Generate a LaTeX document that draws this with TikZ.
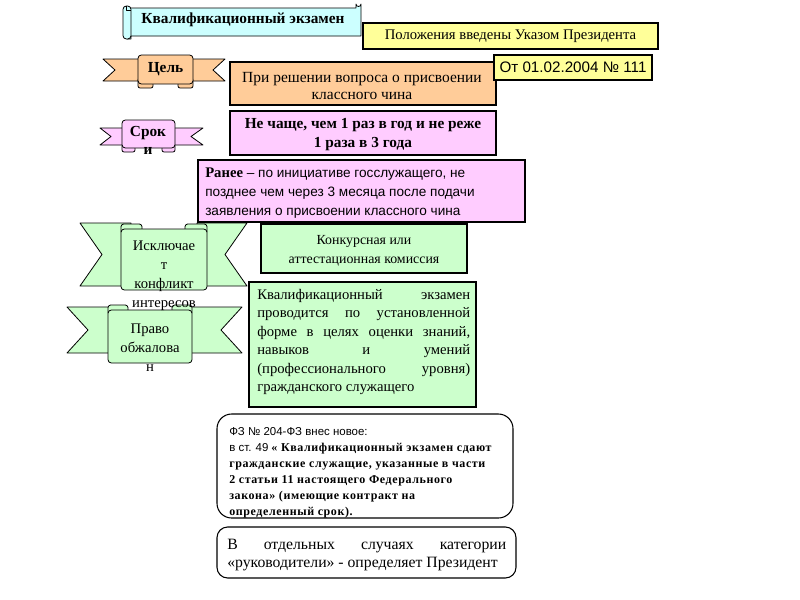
\documentclass[tikz,border=0pt]{standalone}
\usepackage{fontspec}
\setmainfont{Liberation Serif}
\newfontfamily\arialf{Liberation Sans}
\newfontfamily\spacedbf[LetterSpace=5]{Liberation Serif Bold}
\definecolor{cyanF}{HTML}{CCFFFF}
\definecolor{yellowF}{HTML}{FFFF99}
\definecolor{peachF}{HTML}{FFCC99}
\definecolor{pinkF}{HTML}{FFCCFF}
\definecolor{greenF}{HTML}{CCFFCC}
\tikzset{
  box/.style={draw=black, line width=0.8pt, inner sep=0pt},
  wh/.style 2 args={minimum width=#1*0.75pt, minimum height=#2*0.75pt},
  txt/.style={inner sep=0pt, align=center},
  rib/.style={draw=black, line width=0.6pt, line join=round},
  fm/.style={font=\fontsize{11pt}{13.5pt}\selectfont},
}
\begin{document}
\begin{tikzpicture}[x=0.75pt,y=-0.75pt]
\useasboundingbox (0,0) rectangle (800,600);
\fill[white] (0,0) rectangle (800,600);

% title scroll
\filldraw[rib, fill=cyanF] (127,8) -- (356,8) -- (356,4) arc[start angle=180,end angle=0,radius=2.5] -- (361,36) -- (131,36) -- (131,39) -- (127,39) -- cycle;
\filldraw[rib, fill=cyanF, rounded corners=2.5pt] (123,6) rectangle (131,39);
\draw[rib] (126,6) -- (126,10) -- (131,10);
\node[txt, font=\bfseries\fontsize{11.5pt}{13pt}\selectfont] (title) at (243,20) {Квалификационный экзамен};

% yellow boxes
\node[box, fill=yellowF, wh={295}{26}] (decree) at (510.5,36) {};
\node[txt, fm] (decreeT) at (decree) {Положения введены Указом Президента};

% Цель ribbon
\filldraw[rib, fill=peachF] (103,59) -- (148,59) -- (148,81) -- (103,81) -- (115,70) -- cycle;
\filldraw[rib, fill=peachF] (225,59) -- (183,59) -- (183,81) -- (225,81) -- (213,70) -- cycle;
\filldraw[rib, fill=peachF, rounded corners=1.5pt] (138,78) rectangle (153,88);
\filldraw[rib, fill=peachF, rounded corners=1.5pt] (178,78) rectangle (193,88);
\filldraw[rib, fill=peachF, rounded corners=2.5pt] (138,55) rectangle (193,84);
\node[txt, font=\bfseries\fontsize{11.5pt}{13pt}\selectfont] (goal) at (165.5,69.5) {Цель};

\node[box, fill=peachF, wh={266}{43}] (decision) at (363,83.5) {};
\node[txt, font=\fontsize{11.6pt}{13pt}\selectfont] (decisionT) at (362,86) {При решении вопроса о присвоении\\классного чина};

\node[box, fill=yellowF, wh={158}{25}] (date) at (573,67.5) {};
\node[txt, font=\arialf\fontsize{11.4pt}{13pt}\selectfont] (dateT) at (date) {От 01.02.2004 № 111};

% Сроки ribbon
\filldraw[rib, fill=pinkF] (100,128) -- (132,128) -- (132,145) -- (100,145) -- (111,136.5) -- cycle;
\filldraw[rib, fill=pinkF] (203,128) -- (165,128) -- (165,145) -- (203,145) -- (191,136.5) -- cycle;
\filldraw[rib, fill=pinkF, rounded corners=1.5pt] (122,144) rectangle (135,152);
\filldraw[rib, fill=pinkF, rounded corners=1.5pt] (162,144) rectangle (175,152);
\filldraw[rib, fill=pinkF, rounded corners=2.5pt] (122,120) rectangle (175,148);
\node[txt, font=\bfseries\fontsize{11.5pt}{13.5pt}\selectfont] (term) at (148,140.5) {Срок\\и};

\node[box, fill=pinkF, wh={266}{44}] (freq) at (363,133) {};
\node[txt, font=\bfseries\fontsize{11.5pt}{14.25pt}\selectfont] (freqT) at (363,134.5) {Не чаще, чем 1 раз в год и не реже\\1 раза в 3 года};

\node[box, fill=pinkF, wh={327}{62}] (before) at (361.5,191) {};
\node[txt, align=left, anchor=west, font=\arialf\fontsize{10.2pt}{14.25pt}\selectfont] (beforeT) at (205,193.5) {{\rmfamily\bfseries\fontsize{11pt}{14.25pt}\selectfont Ранее} – по инициативе госслужащего, не\\позднее чем через 3 месяца после подачи\\заявления о присвоении классного чина};

% green ribbon 2 (Право обжалования)
\filldraw[rib, fill=greenF] (67,307) -- (118,307) -- (118,353) -- (67,353) -- (88,330) -- cycle;
\filldraw[rib, fill=greenF] (242,307) -- (182,307) -- (182,353) -- (242,353) -- (221,330) -- cycle;
\filldraw[rib, fill=greenF, rounded corners=2pt] (108,305) rectangle (128,315);
\filldraw[rib, fill=greenF, rounded corners=2pt] (172,305) rectangle (192,315);
\filldraw[rib, fill=greenF, rounded corners=2.5pt] (108,310) rectangle (192,363);

% green ribbon 1 (Исключает конфликт интересов)
\filldraw[rib, fill=greenF] (80,223) -- (131,223) -- (131,286) -- (80,286) -- (102,254.5) -- cycle;
\filldraw[rib, fill=greenF] (247,223) -- (197,223) -- (197,286) -- (247,286) -- (225,254.5) -- cycle;
\filldraw[rib, fill=greenF, rounded corners=2pt] (121,224) rectangle (142,234);
\filldraw[rib, fill=greenF, rounded corners=2pt] (185,224) rectangle (207,234);
\filldraw[rib, fill=greenF, rounded corners=2.5pt] (121,229) rectangle (207,290);
\node[txt, font=\fontsize{11pt}{14.25pt}\selectfont] (conflict) at (164,276) {Исключае\\т\\конфликт\\интересов};
\node[txt, font=\fontsize{11pt}{14.25pt}\selectfont] (appeal) at (150,348) {Право\\обжалова\\н};

\node[box, fill=greenF, wh={206}{49}] (comm) at (364,248.5) {};
\node[txt, font=\fontsize{10.4pt}{14.25pt}\selectfont] (commT) at (364,251) {Конкурсная или\\аттестационная комиссия};

\node[box, fill=greenF, wh={227}{125}] (exam) at (362.5,344.5) {};
\node[txt, align=left, anchor=north west, font=\fontsize{11pt}{13.8pt}\selectfont] (examT) at (257,289) {%
\makebox[159.75pt][s]{Квалификационный экзамен}\\
\makebox[159.75pt][s]{проводится по установленной}\\
\makebox[159.75pt][s]{форме в целях оценки знаний,}\\
\makebox[159.75pt][s]{навыков и умений}\\
\makebox[159.75pt][s]{(профессионального уровня)}\\
гражданского служащего};

% rounded white boxes
\node[box, fill=white, rounded corners=11pt, wh={296}{104}] (law) at (365,466) {};
\node[txt, align=left, anchor=north west, font=\fontsize{9pt}{12pt}\selectfont] (lawT) at (229,427) {%
{\arialf\fontsize{8.6pt}{12pt}\selectfont ФЗ № 204-ФЗ внес новое:}\\
{\arialf\fontsize{8.6pt}{12pt}\selectfont в ст. 49} {\spacedbf « Квалификационный экзамен сдают}\\
{\spacedbf гражданские служащие, указанные в части}\\
{\spacedbf 2 статьи 11 настоящего Федерального}\\
{\spacedbf закона» (имеющие контракт на}\\
{\spacedbf определенный срок).}};

\node[box, fill=white, rounded corners=8pt, wh={299}{51}] (heads) at (366.5,552.5) {};
\node[txt, align=left, anchor=north west, font=\fontsize{11.8pt}{13.5pt}\selectfont] (headsT) at (227,538.5) {%
\makebox[209.25pt][s]{В отдельных случаях категории}\\
«руководители» - определяет Президент};
\end{tikzpicture}
\end{document}
